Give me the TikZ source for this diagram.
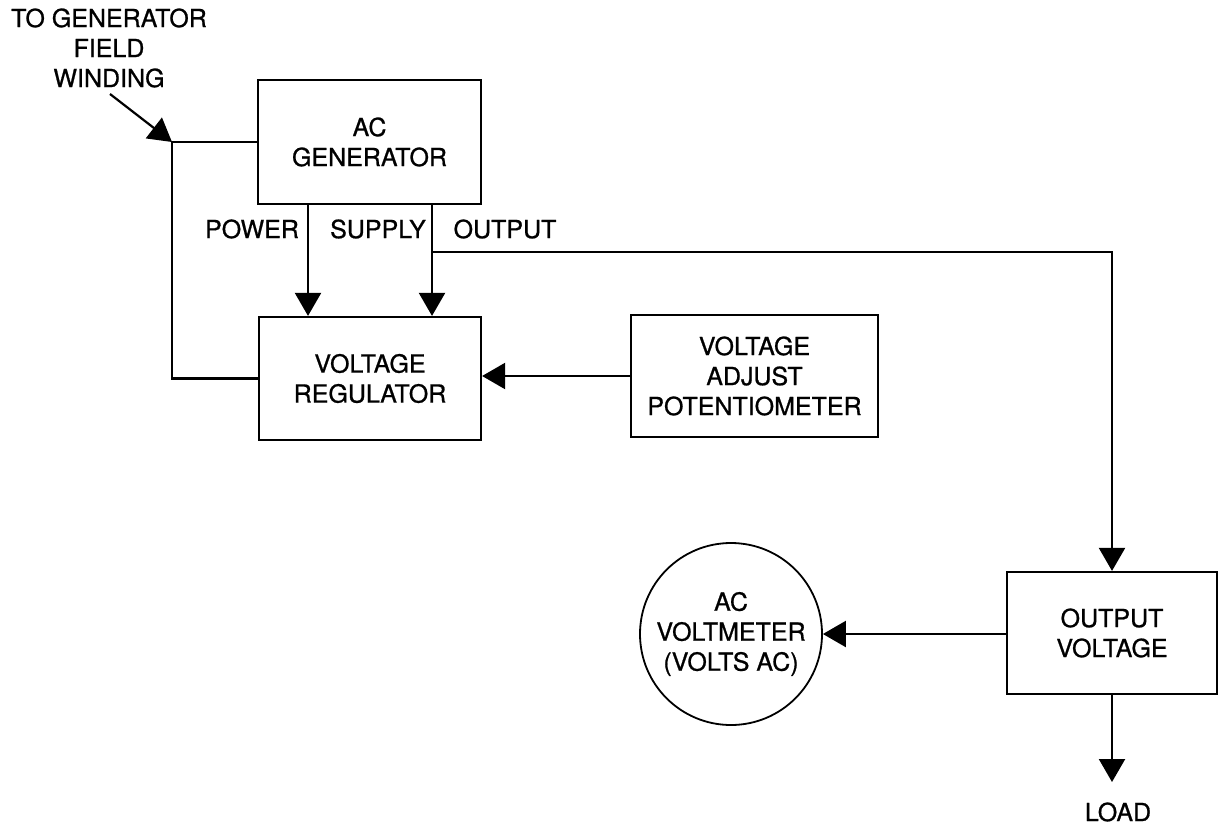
\documentclass[tikz,border=0pt]{standalone}
\usepackage{fontspec}
\setmainfont{TeX Gyre Heros}[BoldFont={TeX Gyre Heros},BoldFeatures={FakeBold=0.8}]
\usetikzlibrary{arrows.meta}
\begin{document}
\begin{tikzpicture}[x=1pt,y=-1pt,
  every node/.style={font=\fontsize{25}{30}\selectfont\bfseries, align=center, inner sep=0pt},
  blk/.style={draw, line width=2.2pt, rectangle},
  wire/.style={line width=2.2pt},
  arr/.style={line width=2.2pt, -{Triangle[length=23pt,width=26pt]}}]
\useasboundingbox (0,0) rectangle (1218,827);
% blocks
\node[blk, minimum width=223pt, minimum height=124pt] (gen) at (369.5,142) {AC\\GENERATOR};
\node[blk, minimum width=222pt, minimum height=123pt] (vr) at (370,378.5) {VOLTAGE\\REGULATOR};
\node[blk, minimum width=247pt, minimum height=122pt] (vap) at (754.5,376) {VOLTAGE\\ADJUST\\POTENTIOMETER};
\node[blk, minimum width=210pt, minimum height=122pt] (ov) at (1112,633) {OUTPUT\\VOLTAGE};
\node[draw, circle, line width=1.8pt, minimum size=182pt] (vm) at (731,634) {AC\\VOLTMETER\\(VOLTS AC)};
% labels
\node (lbl) at (109,48) {TO GENERATOR\\FIELD\\WINDING};
\node (pw) at (252,229) {POWER};
\node (sp) at (378,229) {SUPPLY};
\node (op) at (505,229) {OUTPUT};
\node (load) at (1118,812) {LOAD};
% coordinates
\coordinate (fw) at (172,142);
\coordinate (fa) at (110,94);
\coordinate (px) at (308,0);
\coordinate (sx) at (432,0);
\coordinate (br) at (432,252);
\coordinate (lt) at (1112,782);
% connectors
\draw[arr] (fa) -- (fw);
\draw[wire] (gen.west |- fw) -- (fw) -- (fw |- vr.west) -- (vr.west);
\draw[arr] (gen.south -| px) -- (vr.north -| px);
\draw[arr] (gen.south -| sx) -- (vr.north -| sx);
\draw[arr] (br) -| (ov.north);
\draw[arr] (vap.west) -- (vap.west -| vr.east);
\draw[arr] (ov.west |- vm.east) -- (vm.east);
\draw[arr] (ov.south) -- (lt);
\end{tikzpicture}
\end{document}
